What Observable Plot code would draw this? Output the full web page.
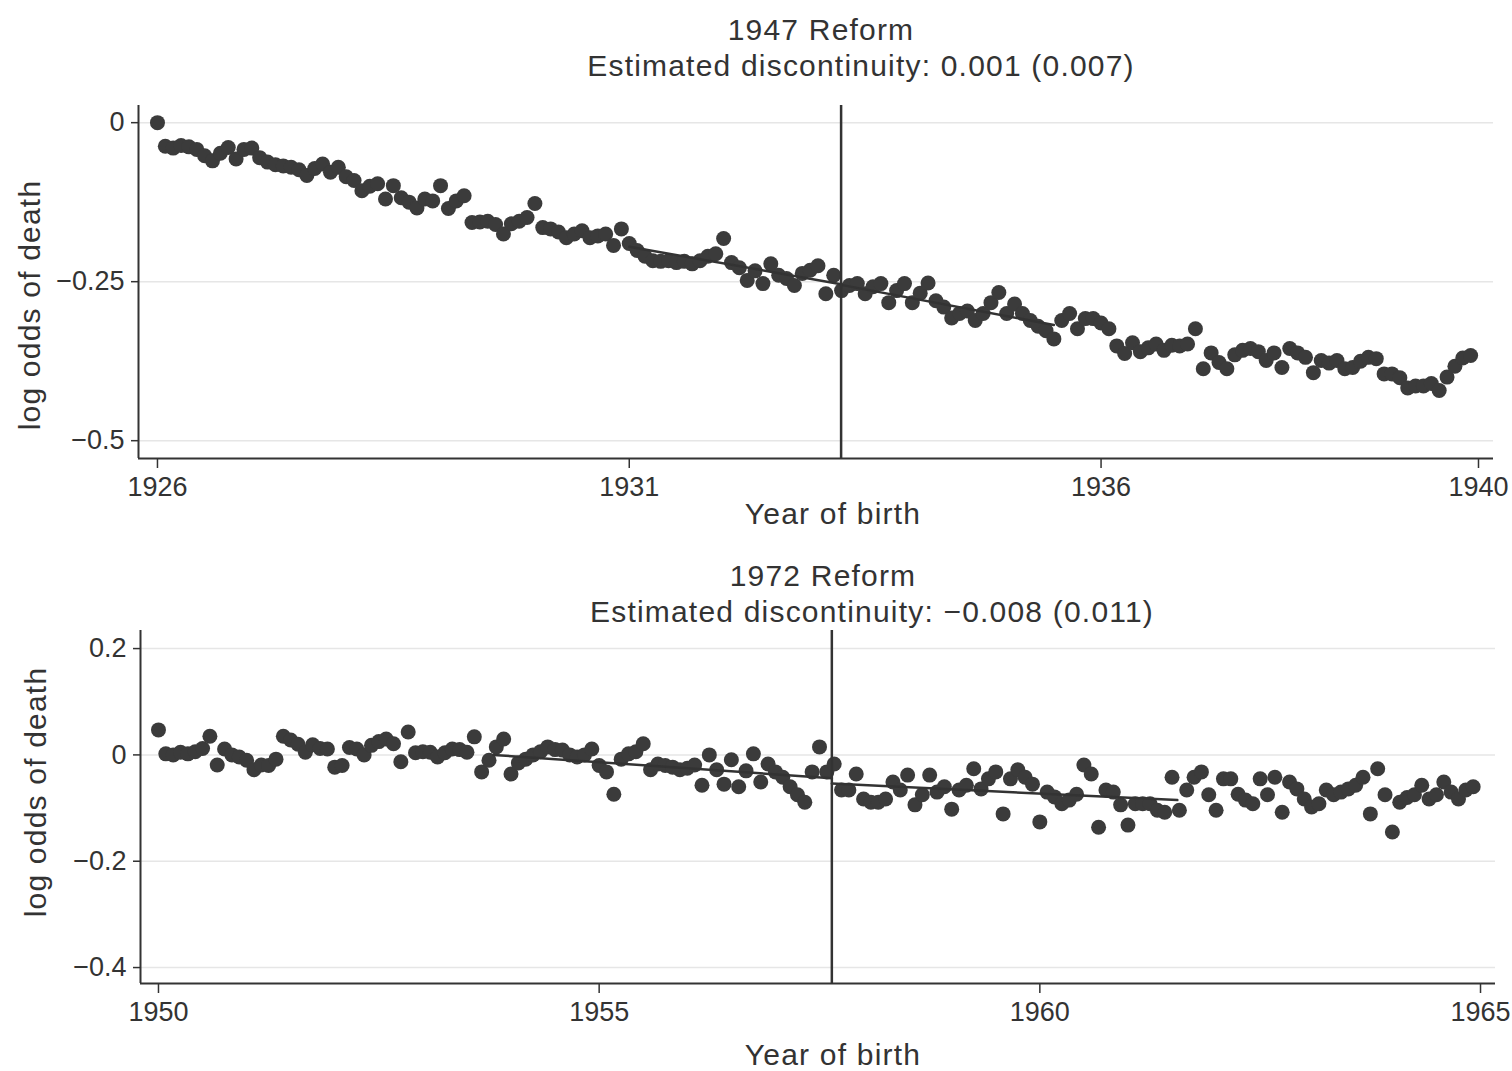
<!DOCTYPE html>
<html>
<head>
<meta charset="utf-8">
<script src="https://cdn.jsdelivr.net/npm/d3@7"></script>
<script src="https://cdn.jsdelivr.net/npm/@observablehq/plot@0.6"></script>
<style>
  html, body { margin: 0; padding: 0; background: #fff; }
  #wrap { position: relative; width: 1512px; height: 1071px; overflow: hidden; font-family: "Liberation Sans", Arial, sans-serif; color: #333; }
  .lbl { position: absolute; white-space: nowrap; font-size: 30px; letter-spacing: 1.2px; transform: translate(-50%, -50%); line-height: 1; }
  .ylbl { position: absolute; white-space: nowrap; font-size: 30px; letter-spacing: 1.2px; transform: translate(-50%, -50%) rotate(-90deg); line-height: 1; }
  .panel { position: absolute; left: 0; }
</style>
</head>
<body>
<div id="wrap">
  <div class="lbl" style="left:821px; top:30px;">1947 Reform</div>
  <div class="lbl" style="left:861px; top:66px;">Estimated discontinuity: 0.001 (0.007)</div>
  <div class="ylbl" style="left:30px; top:305px;">log odds of death</div>
  <div class="lbl" style="left:833px; top:514px;">Year of birth</div>
  <div class="lbl" style="left:823px; top:576px;">1972 Reform</div>
  <div class="lbl" style="left:872px; top:612px;">Estimated discontinuity: −0.008 (0.011)</div>
  <div class="ylbl" style="left:36px; top:792px;">log odds of death</div>
  <div class="lbl" style="left:833px; top:1055px;">Year of birth</div>
  <div id="top" class="panel" style="top:0px;"></div>
  <div id="bottom" class="panel" style="top:540px;"></div>
</div>
<script>
// ---------- Data ----------
// 1947 reform panel: monthly cohorts, Jan 1926 .. Dec 1939
const topStartYear = 1926;
const topValues = [
  0, -0.037, -0.040, -0.036, -0.038, -0.042, -0.052, -0.060, -0.048, -0.039, -0.057, -0.042,
  -0.040, -0.055, -0.062, -0.066, -0.068, -0.070, -0.074, -0.083, -0.072, -0.065, -0.078, -0.070,
  -0.085, -0.091, -0.107, -0.100, -0.096, -0.120, -0.099, -0.118, -0.125, -0.134, -0.120, -0.123,
  -0.099, -0.135, -0.123, -0.115, -0.157, -0.156, -0.155, -0.160, -0.175, -0.159, -0.155, -0.149,
  -0.127, -0.165, -0.167, -0.172, -0.181, -0.175, -0.170, -0.181, -0.178, -0.175, -0.193, -0.167,
  -0.190, -0.201, -0.210, -0.217, -0.218, -0.217, -0.220, -0.218, -0.222, -0.217, -0.210, -0.206,
  -0.182, -0.220, -0.228, -0.248, -0.233, -0.253, -0.222, -0.240, -0.245, -0.256, -0.237, -0.232,
  -0.225, -0.269, -0.240, -0.264, -0.256, -0.253, -0.269, -0.258, -0.253, -0.283, -0.264, -0.253,
  -0.283, -0.268, -0.252, -0.280, -0.290, -0.307, -0.300, -0.296, -0.311, -0.300, -0.283, -0.267,
  -0.300, -0.285, -0.300, -0.311, -0.320, -0.327, -0.340, -0.311, -0.300, -0.324, -0.308, -0.308,
  -0.315, -0.324, -0.351, -0.363, -0.346, -0.360, -0.354, -0.348, -0.358, -0.350, -0.351, -0.348,
  -0.324, -0.387, -0.362, -0.377, -0.387, -0.365, -0.358, -0.355, -0.360, -0.374, -0.362, -0.385,
  -0.355, -0.362, -0.369, -0.393, -0.374, -0.378, -0.374, -0.387, -0.385, -0.375, -0.369, -0.371,
  -0.395, -0.395, -0.401, -0.417, -0.414, -0.414, -0.410, -0.421, -0.400, -0.383, -0.370, -0.366
];
const topCutoff = 1933.245;
const topFitLeftX = [1931.0, 1933.245];
const topFitLeftY = [-0.195, -0.254];
const topFitRightX = [1933.245, 1935.5];
const topFitRightY = [-0.255, -0.318];
const topXTicks = [1926, 1931, 1936, 1940];
const topYTicks = [0, -0.25, -0.5];
const topYTickLabels = ["0", "−0.25", "−0.5"];

// 1972 reform panel: monthly cohorts, Jan 1950 .. Dec 1964
const bottomStartYear = 1950;
const bottomValues = [
  0.047, 0.002, 0.000, 0.005, 0.002, 0.006, 0.012, 0.035, -0.019, 0.011, 0.000, -0.004,
  -0.010, -0.028, -0.019, -0.020, -0.008, 0.035, 0.028, 0.020, 0.005, 0.019, 0.012, 0.011,
  -0.023, -0.020, 0.014, 0.011, 0.000, 0.018, 0.025, 0.030, 0.021, -0.013, 0.043, 0.004,
  0.006, 0.005, -0.004, 0.004, 0.011, 0.010, 0.005, 0.034, -0.032, -0.010, 0.015, 0.030,
  -0.036, -0.015, -0.008, 0.000, 0.006, 0.015, 0.010, 0.009, 0.000, -0.004, 0.000, 0.011,
  -0.020, -0.032, -0.074, -0.008, 0.002, 0.006, 0.021, -0.028, -0.017, -0.020, -0.023, -0.028,
  -0.025, -0.019, -0.057, 0.000, -0.028, -0.055, -0.009, -0.060, -0.030, 0.002, -0.051, -0.017,
  -0.032, -0.042, -0.060, -0.075, -0.089, -0.032, 0.015, -0.032, -0.017, -0.066, -0.066, -0.036,
  -0.083, -0.089, -0.089, -0.083, -0.051, -0.066, -0.038, -0.094, -0.075, -0.038, -0.070, -0.060,
  -0.102, -0.066, -0.057, -0.026, -0.064, -0.045, -0.032, -0.111, -0.045, -0.028, -0.042, -0.055,
  -0.126, -0.070, -0.079, -0.092, -0.085, -0.074, -0.019, -0.036, -0.136, -0.066, -0.070, -0.094,
  -0.132, -0.092, -0.092, -0.092, -0.104, -0.108, -0.042, -0.104, -0.066, -0.042, -0.032, -0.075,
  -0.104, -0.045, -0.045, -0.074, -0.085, -0.092, -0.045, -0.075, -0.042, -0.108, -0.051, -0.064,
  -0.083, -0.098, -0.092, -0.066, -0.075, -0.070, -0.064, -0.057, -0.042, -0.111, -0.026, -0.075,
  -0.145, -0.089, -0.080, -0.075, -0.057, -0.083, -0.075, -0.051, -0.070, -0.083, -0.066, -0.060
];
const bottomCutoff = 1957.64;
const bottomFitLeftX = [1953.8, 1957.64];
const bottomFitLeftY = [0.000, -0.044];
const bottomFitRightX = [1957.64, 1961.56];
const bottomFitRightY = [-0.054, -0.085];
const bottomXTicks = [1950, 1955, 1960, 1965];
const bottomYTicks = [0.2, 0, -0.2, -0.4];
const bottomYTickLabels = ["0.2", "0", "−0.2", "−0.4"];

// ---------- Drawing ----------
const ink = "#333";
const dotFill = "#3b3b3b";
const gridColor = "#e6e6e6";

function panel({startYear, values, cutoff, fitLX, fitLY, fitRX, fitRY, xTicks, yTicks, yLabels,
                xDomain, yDomain, height, marginTop, marginBottom, marginLeft, marginRight}) {
  const data = values.map((v, i) => ({x: startYear + i / 12, y: v}));
  const fitL = fitLX.map((x, i) => ({x, y: fitLY[i]}));
  const fitR = fitRX.map((x, i) => ({x, y: fitRY[i]}));
  const labelOf = new Map(yTicks.map((t, i) => [t, yLabels[i]]));
  return Plot.plot({
    width: 1512,
    height,
    marginTop, marginBottom, marginLeft, marginRight,
    style: {background: "transparent", fontFamily: "Liberation Sans, Arial, sans-serif", color: ink},
    x: {domain: xDomain},
    y: {domain: yDomain},
    marks: [
      Plot.ruleY(yTicks, {stroke: gridColor, strokeWidth: 1.5}),
      Plot.axisX({ticks: xTicks, tickFormat: d => String(d), tickSize: 10, tickPadding: 8,
                  fontSize: 27, stroke: ink, strokeWidth: 1.5, fill: ink, label: null}),
      Plot.axisY({ticks: yTicks, tickFormat: d => labelOf.get(d), tickSize: 7, tickPadding: 7,
                  fontSize: 27, stroke: ink, strokeWidth: 1.5, fill: ink, label: null}),
      Plot.ruleX([xDomain[0]], {stroke: ink, strokeWidth: 2}),
      Plot.ruleY([yDomain[0]], {stroke: ink, strokeWidth: 2}),
      Plot.dot(data, {x: "x", y: "y", r: 7.5, fill: dotFill, stroke: "none"}),
      Plot.line(fitL, {x: "x", y: "y", stroke: ink, strokeWidth: 2.5}),
      Plot.line(fitR, {x: "x", y: "y", stroke: ink, strokeWidth: 2.5}),
      Plot.ruleX([cutoff], {stroke: ink, strokeWidth: 2.5})
    ]
  });
}

document.getElementById("top").appendChild(panel({
  startYear: topStartYear, values: topValues, cutoff: topCutoff,
  fitLX: topFitLeftX, fitLY: topFitLeftY, fitRX: topFitRightX, fitRY: topFitRightY,
  xTicks: topXTicks, yTicks: topYTicks, yLabels: topYTickLabels,
  xDomain: [1925.799, 1940.159], yDomain: [-0.528, 0.027],
  height: 540, marginTop: 105, marginBottom: 82, marginLeft: 138, marginRight: 19
}));

document.getElementById("bottom").appendChild(panel({
  startYear: bottomStartYear, values: bottomValues, cutoff: bottomCutoff,
  fitLX: bottomFitLeftX, fitLY: bottomFitLeftY, fitRX: bottomFitRightX, fitRY: bottomFitRightY,
  xTicks: bottomXTicks, yTicks: bottomYTicks, yLabels: bottomYTickLabels,
  xDomain: [1949.796, 1965.17], yDomain: [-0.430, 0.234],
  height: 531, marginTop: 90, marginBottom: 88, marginLeft: 140, marginRight: 17
}));
</script>
</body>
</html>
